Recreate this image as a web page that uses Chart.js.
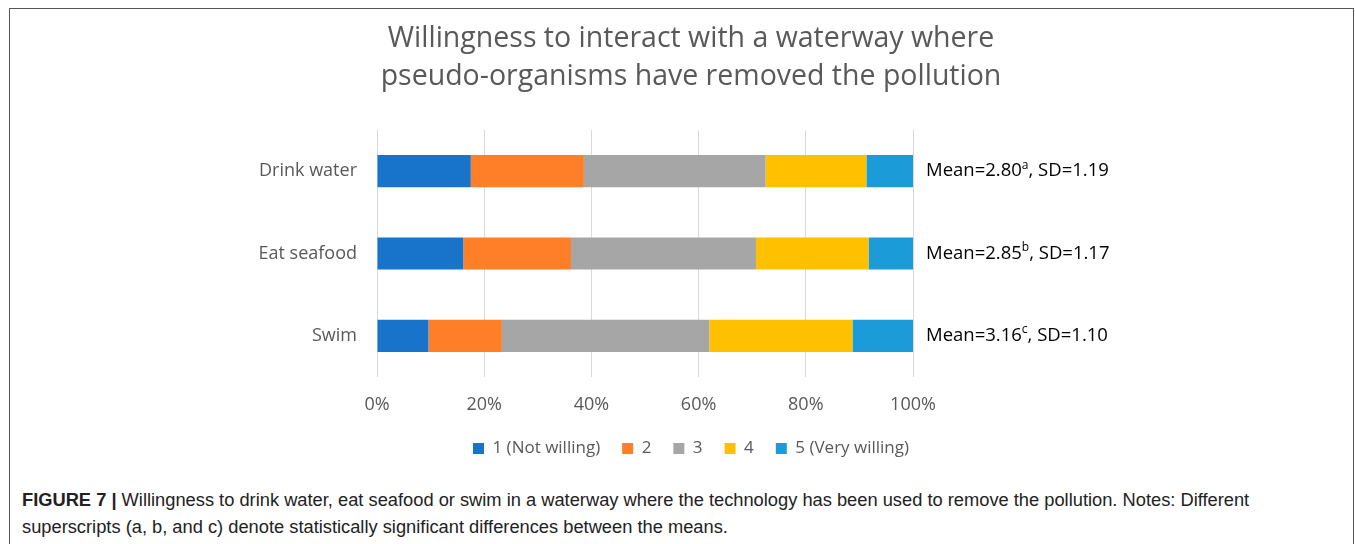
<!DOCTYPE html>
<html>
<head>
<meta charset="utf-8">
<script src="https://cdn.jsdelivr.net/npm/chart.js@4"></script>
<style>
  html, body { margin: 0; padding: 0; background: #fff; overflow: hidden; }
  #frame { position: absolute; left: 9px; top: 8px; width: 1343px; height: 600px; border: 1px solid #555; }
  #graf { position: absolute; left: 10px; top: 9px; }
  #caption { position: absolute; left: 22px; top: 486px; font-family: "Liberation Sans", Arial, sans-serif;
             font-size: 18.3px; line-height: 27px; color: #222; white-space: nowrap; }
  #caption b { font-weight: bold; }
</style>
</head>
<body>
<div id="frame"></div>
<canvas id="graf" width="1340" height="462"></canvas>
<div id="caption"><b>FIGURE 7 |</b> Willingness to drink water, eat seafood or swim in a waterway where the technology has been used to remove the pollution. Notes: Different<br>superscripts (a, b, and c) denote statistically significant differences between the means.</div>
<script>
// Datos del gráfico (porcentajes)
const categories = ["Drink water", "Eat seafood", "Swim"];
const notWilling = [17.5, 16.1, 9.6];
const level2 = [21.1, 20.1, 13.7];
const level3 = [33.9, 34.5, 38.7];
const level4 = [18.8, 21.0, 26.7];
const veryWilling = [8.7, 8.3, 11.3];
const seriesNames = ["1 (Not willing)", "2", "3", "4", "5 (Very willing)"];
const seriesColors = ["#1874CB", "#FE7F27", "#A6A6A6", "#FFC000", "#1B9BD7"];
const means = ["2.80", "2.85", "3.16"];
const meanMarks = ["a", "b", "c"];
const sds = ["1.19", "1.17", "1.10"];
const titleLines = ["Willingness to interact with a waterway where", "pseudo-organisms have removed the pollution"];

const fuente = "Open Sans";
const seriesData = [notWilling, level2, level3, level4, veryWilling];

// Plugin para escribir la media y la desviación a la derecha de cada barra
const meanLabels = {
  id: "meanLabels",
  afterDatasetsDraw(chart) {
    const ctx = chart.ctx;
    const yScale = chart.scales.y;
    const area = chart.chartArea;
    ctx.save();
    ctx.fillStyle = "#000";
    ctx.textBaseline = "middle";
    categories.forEach((c, i) => {
      let x = area.right + 13;
      const py = yScale.getPixelForValue(i);
      ctx.font = "18.5px " + fuente;
      const first = "Mean=" + means[i];
      ctx.fillText(first, x, py);
      x += ctx.measureText(first).width;
      ctx.font = "12px " + fuente;
      ctx.fillText(meanMarks[i], x, py - 6);
      x += ctx.measureText(meanMarks[i]).width;
      ctx.font = "18.5px " + fuente;
      ctx.fillText(", SD=" + sds[i], x, py);
    });
    ctx.restore();
  }
};

const ctx = document.getElementById("graf").getContext("2d");
new Chart(ctx, {
  type: "bar",
  data: {
    labels: categories,
    datasets: seriesData.map((d, i) => ({
      label: seriesNames[i],
      data: d,
      backgroundColor: seriesColors[i],
      borderWidth: 0,
      barPercentage: 0.39,
      categoryPercentage: 1
    }))
  },
  options: {
    indexAxis: "y",
    responsive: false,
    animation: false,
    layout: { padding: { left: 22, right: 0, top: 0, bottom: 4 } },
    plugins: {
      title: {
        display: true,
        text: titleLines,
        color: "#595959",
        font: { family: fuente, size: 28.5, weight: "normal", lineHeight: 1.333 },
        padding: { top: 11, bottom: 34 }
      },
      legend: {
        position: "bottom",
        labels: {
          color: "#595959",
          boxWidth: 11,
          boxHeight: 11,
          padding: 22,
          font: { family: fuente, size: 17 }
        }
      },
      tooltip: { enabled: false }
    },
    scales: {
      x: {
        stacked: true,
        min: 0,
        max: 100,
        ticks: {
          stepSize: 20,
          color: "#595959",
          padding: 17,
          font: { family: fuente, size: 18 },
          callback: (v) => v + "%"
        },
        grid: { color: "#d9d9d9", drawTicks: false },
        border: { display: false },
        afterFit: (scale) => { scale.height = 41; }
      },
      y: {
        stacked: true,
        ticks: { color: "#595959", padding: 12, font: { family: fuente, size: 18 } },
        grid: { display: false },
        border: { display: false },
        afterFit: (scale) => { scale.width = 345; }
      },
      // eje vacío a la derecha: deja sitio para los textos de la media
      y2: {
        type: "category",
        labels: categories,
        position: "right",
        ticks: { display: false },
        grid: { display: false },
        border: { display: false },
        afterFit: (scale) => { scale.width = 437; }
      }
    }
  },
  plugins: [meanLabels]
});
</script>
</body>
</html>
